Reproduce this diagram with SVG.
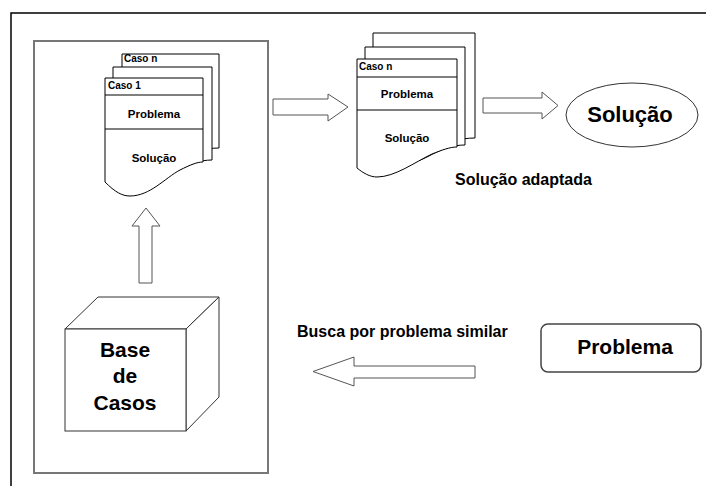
<svg xmlns="http://www.w3.org/2000/svg" width="706" height="486" viewBox="0 0 706 486">
  <style>
    text { font-family: "Liberation Sans", Arial, sans-serif; font-weight: bold; fill: #000; }
    .doc { fill: #fff; stroke: #000; stroke-width: 1; }
    .sep { stroke: #000; stroke-width: 1; fill: none; }
    .arrow { fill: #fff; stroke: #555; stroke-width: 1; }
    .t-small { font-size: 10px; }
    .t-doc { font-size: 11.5px; text-anchor: middle; }
    .t-label { font-size: 16px; }
    .t-big { font-size: 21px; text-anchor: middle; }
  </style>
  <rect width="706" height="486" fill="#fff"/>

  <!-- outer frame (top and left edges) -->
  <path d="M11,486 V13 H706" fill="none" stroke="#000" stroke-width="1.5"/>

  <!-- case base region -->
  <rect x="34" y="41" width="234" height="432" fill="none" stroke="#777" stroke-width="2"/>

  <!-- stack of retrieved cases -->
  <g id="casos-recuperados">
    <path class="doc" d="M122,54 H219 V148 C205,148 195,152 180,160 C165,168 150,170 122,168 Z"/>
    <text class="t-small" x="124" y="62">Caso n</text>
    <path class="doc" d="M113,67 H212 V160 C200,160 190,164 175,172 C160,180 140,182 113,180 Z"/>
    <path class="doc" d="M105,78 H203 V162 C197,162 190,165 180,170 C165,178 150,196 130,196 C122,196 115,192 105,182 Z"/>
    <line class="sep" x1="105" y1="95" x2="203" y2="95"/>
    <line class="sep" x1="105" y1="129" x2="203" y2="129"/>
    <text class="t-small" x="108" y="89">Caso 1</text>
    <text class="t-doc" x="154" y="118">Problema</text>
    <text class="t-doc" x="154" y="162">Solução</text>
  </g>

  <!-- adapted case -->
  <g id="caso-adaptado">
    <path class="doc" d="M373,33 H475 V138 C460,138 450,142 435,150 C420,158 400,160 373,158 Z"/>
    <path class="doc" d="M365,47 H465 V145 C452,145 442,149 427,157 C412,165 392,167 365,165 Z"/>
    <path class="doc" d="M357,59 H457 V147 C450,147 442,150 432,154 C415,162 395,177 377,177 C370,177 363,173 357,168 Z"/>
    <line class="sep" x1="357" y1="77" x2="457" y2="77"/>
    <line class="sep" x1="357" y1="110" x2="457" y2="110"/>
    <text class="t-small" x="359" y="70">Caso n</text>
    <text class="t-doc" x="407" y="98">Problema</text>
    <text class="t-doc" x="407" y="142">Solução</text>
    <text class="t-label" x="455" y="185">Solução adaptada</text>
  </g>

  <!-- final solution -->
  <g id="solucao">
    <ellipse cx="632" cy="115" rx="66" ry="32" fill="#fff" stroke="#333" stroke-width="1"/>
    <text x="630" y="122" font-size="22" text-anchor="middle">Solução</text>
  </g>

  <!-- case base cube -->
  <g id="base-de-casos">
    <polygon points="65,329 98,297 219,297 186,329" fill="#fff" stroke="#333" stroke-width="1"/>
    <polygon points="186,329 219,297 219,397 186,431" fill="#fff" stroke="#333" stroke-width="1"/>
    <rect x="65" y="329" width="121" height="102" fill="#fff" stroke="#333" stroke-width="1"/>
    <text class="t-big" x="125" y="357">Base</text>
    <text class="t-big" x="125" y="383">de</text>
    <text class="t-big" x="125" y="410">Casos</text>
  </g>

  <!-- new problem -->
  <g id="problema">
    <rect x="541" y="324" width="160" height="48" rx="7" fill="#fff" stroke="#444" stroke-width="1.5"/>
    <text class="t-big" x="625" y="354">Problema</text>
  </g>

  <!-- block arrows between the stages -->
  <g id="conectores">
    <polygon class="arrow" points="273,99 328,99 328,94 348,107 328,121 328,115 273,115"/>
    <polygon class="arrow" points="483,98 542,98 542,92 558,105.5 542,119 542,113 483,113"/>
    <polygon class="arrow" points="139,283 139,226 132,226 146,208 160,226 152,226 152,283"/>
    <polygon class="arrow" points="475,366 354,366 354,357 313,371.5 354,386 354,378 475,378"/>
    <text class="t-label" x="297" y="337">Busca por problema similar</text>
  </g>
</svg>
